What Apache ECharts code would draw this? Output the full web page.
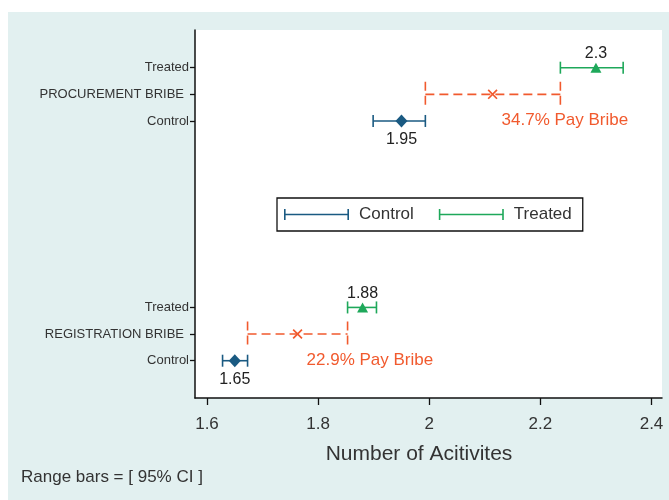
<!DOCTYPE html>
<html>
<head>
<meta charset="utf-8">
<script src="https://cdn.jsdelivr.net/npm/echarts@6/dist/echarts.min.js"></script>
<style>
  html, body { margin: 0; padding: 0; background: #ffffff; }
  #bg { position: absolute; left: 8px; top: 12px; width: 661px; height: 488px; background: #e2f0f0; }
  #chart { position: absolute; left: 0; top: 0; width: 669px; height: 500px; }
</style>
</head>
<body>
<div id="bg"></div>
<div id="chart"></div>
<script>
// ---- data ----
const groupNames   = ['PROCUREMENT BRIBE', 'REGISTRATION BRIBE'];
const rowTreated   = [12, 3];
const rowBribe     = [11, 2];
const rowControl   = [10, 1];
const controlMean  = [1.95, 1.65];
const controlLo    = [1.899, 1.628];
const controlHi    = [1.993, 1.673];
const treatedMean  = [2.30, 1.88];
const treatedLo    = [2.236, 1.853];
const treatedHi    = [2.349, 1.905];
const bribeMid     = [2.114, 1.763];
const bribeLo      = [1.993, 1.673];
const bribeHi      = [2.236, 1.853];
const bribeShare   = ['34.7%', '22.9%'];
const xTicks       = [1.6, 1.8, 2.0, 2.2, 2.4];

const FONT = 'Liberation Sans, Arial, Helvetica, sans-serif';
const C_CONTROL = '#1a5a82';
const C_TREATED = '#1ea85a';
const C_BRIBE   = '#f15a2e';

// y-axis rows and labels
const yRows = [], yLabelMap = {};
for (let i = 0; i < groupNames.length; i++) {
  yRows.push(rowTreated[i], rowBribe[i], rowControl[i]);
  yLabelMap[rowTreated[i]] = 'Treated';
  yLabelMap[rowBribe[i]] = '{g|' + groupNames[i] + '}';
  yLabelMap[rowControl[i]] = 'Control';
}

function rangeData(lo, hi, rows) {
  return lo.map((v, i) => [v, hi[i], rows[i]]);
}
function pointData(x, rows) {
  return x.map((v, i) => [v, rows[i]]);
}
function rangeRender(color, capHalf, dashed) {
  return function (params, api) {
    const a = api.coord([api.value(0), api.value(2)]);
    const b = api.coord([api.value(1), api.value(2)]);
    const style = { stroke: color, lineWidth: 1.6, fill: null, lineDash: dashed ? [9, 5] : null };
    return {
      type: 'group',
      children: [
        { type: 'line', shape: { x1: a[0], y1: a[1], x2: b[0], y2: b[1] }, style: style },
        { type: 'line', shape: { x1: a[0], y1: a[1] - capHalf, x2: a[0], y2: a[1] + capHalf }, style: style },
        { type: 'line', shape: { x1: b[0], y1: b[1] - capHalf, x2: b[0], y2: b[1] + capHalf }, style: style }
      ]
    };
  };
}

const legendIcon = 'path://M0,0h1.6v11h-1.6z M0,4.7h65v1.6h-65z M63.4,0h1.6v11h-1.6z';
const xIcon = 'path://M0,1.2L1.2,0L10,8.8L8.8,10Z M8.8,0L10,1.2L1.2,10L0,8.8Z';

const chart = echarts.init(document.getElementById('chart'), null, { renderer: 'canvas' });
chart.setOption({
  backgroundColor: 'transparent',
  animation: false,
  textStyle: { fontFamily: FONT },
  title: {
    text: 'Range bars = [ 95% CI ]',
    left: 21, top: 469, padding: 0,
    textStyle: { fontFamily: FONT, fontSize: 17, fontWeight: 'normal', color: '#333' }
  },
  legend: {
    left: 277, top: 198,
    padding: [8, 11, 8, 7],
    itemGap: 25,
    itemWidth: 65, itemHeight: 11,
    borderColor: '#111', borderWidth: 1.3,
    backgroundColor: '#fff',
    selectedMode: false,
    data: [
      { name: 'Control', icon: legendIcon },
      { name: 'Treated', icon: legendIcon }
    ],
    textStyle: { fontFamily: FONT, fontSize: 17, color: '#333', padding: [0, 0, 0, 5] }
  },
  grid: {
    left: 195, right: 7, top: 30, bottom: 102,
    show: true, backgroundColor: '#ffffff', borderWidth: 0
  },
  xAxis: {
    type: 'value',
    min: 1.5784, max: 2.4189,
    splitLine: { show: false },
    axisLine: { show: true, onZero: false, lineStyle: { color: '#111', width: 1.5 } },
    axisTick: { show: true, length: 7, customValues: xTicks, lineStyle: { color: '#111', width: 1.3 } },
    axisLabel: {
      customValues: xTicks, margin: 18,
      fontFamily: FONT, fontSize: 17, color: '#333',
      formatter: v => String(Math.round(v * 10) / 10)
    },
    name: 'Number of Acitivites',
    nameLocation: 'middle', nameGap: 46,
    nameTextStyle: { fontFamily: FONT, fontSize: 21, color: '#333', padding: [0, 19, 0, 0] }
  },
  yAxis: {
    type: 'value',
    min: -0.40, max: 13.415,
    splitLine: { show: false },
    axisLine: { show: true, onZero: false, lineStyle: { color: '#111', width: 1.5 } },
    axisTick: { show: true, length: 5, customValues: yRows, lineStyle: { color: '#111', width: 1.3 } },
    axisLabel: {
      customValues: yRows, margin: 6,
      fontFamily: FONT, fontSize: 13, color: '#333',
      formatter: v => yLabelMap[v] || '',
      rich: { g: { fontFamily: FONT, fontSize: 13, color: '#333', padding: [0, 5, 0, 0] } }
    }
  },
  series: [
    {
      name: 'Control', type: 'custom',
      itemStyle: { color: C_CONTROL },
      encode: { x: [0, 1], y: 2 },
      renderItem: rangeRender(C_CONTROL, 6, false),
      data: rangeData(controlLo, controlHi, rowControl), z: 3
    },
    {
      name: 'Treated', type: 'custom',
      itemStyle: { color: C_TREATED },
      encode: { x: [0, 1], y: 2 },
      renderItem: rangeRender(C_TREATED, 6, false),
      data: rangeData(treatedLo, treatedHi, rowTreated), z: 3
    },
    {
      name: 'Bribe range', type: 'custom',
      itemStyle: { color: C_BRIBE },
      encode: { x: [0, 1], y: 2 },
      renderItem: rangeRender(C_BRIBE, 12.5, true),
      data: rangeData(bribeLo, bribeHi, rowBribe), z: 3
    },
    {
      name: 'Control mean', type: 'scatter',
      symbol: 'diamond', symbolSize: [12, 13],
      itemStyle: { color: C_CONTROL, opacity: 1 },
      label: {
        show: true, position: 'bottom', distance: 4,
        fontFamily: FONT, fontSize: 16, color: '#222',
        formatter: p => String(p.value[0])
      },
      data: pointData(controlMean, rowControl), z: 5
    },
    {
      name: 'Treated mean', type: 'scatter',
      symbol: 'triangle', symbolSize: [11, 10],
      itemStyle: { color: C_TREATED, opacity: 1 },
      label: {
        show: true, position: 'top', distance: 1,
        fontFamily: FONT, fontSize: 16, color: '#222',
        formatter: p => String(p.value[0])
      },
      data: pointData(treatedMean, rowTreated), z: 5
    },
    {
      name: 'Bribe mean', type: 'scatter',
      symbol: xIcon, symbolSize: 10,
      itemStyle: { color: C_BRIBE, opacity: 1 },
      label: {
        show: true, position: 'right', distance: 4, offset: [0, 26],
        fontFamily: FONT, fontSize: 17, color: C_BRIBE,
        formatter: p => bribeShare[p.dataIndex] + ' Pay Bribe'
      },
      data: pointData(bribeMid, rowBribe), z: 5
    }
  ]
});
</script>
</body>
</html>
